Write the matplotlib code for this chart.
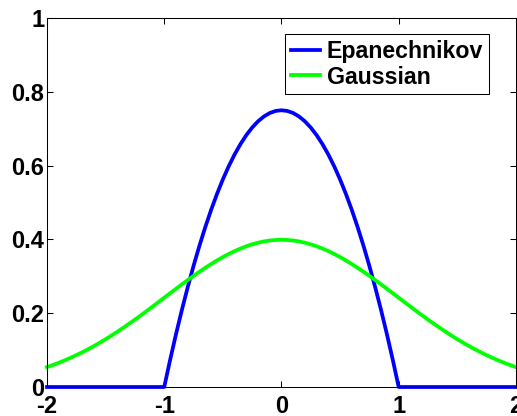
import matplotlib
matplotlib.use("Agg")
import matplotlib.pyplot as plt

# kernel values, x from -2 to 2 in steps of 0.05
x = [-2.0, -1.95, -1.9, -1.85, -1.8, -1.75, -1.7, -1.65, -1.6, -1.55,
     -1.5, -1.45, -1.4, -1.35, -1.3, -1.25, -1.2, -1.15, -1.1, -1.05,
     -1.0, -0.95, -0.9, -0.85, -0.8, -0.75, -0.7, -0.65, -0.6, -0.55,
     -0.5, -0.45, -0.4, -0.35, -0.3, -0.25, -0.2, -0.15, -0.1, -0.05,
     0.0,
     0.05, 0.1, 0.15, 0.2, 0.25, 0.3, 0.35, 0.4, 0.45, 0.5,
     0.55, 0.6, 0.65, 0.7, 0.75, 0.8, 0.85, 0.9, 0.95, 1.0,
     1.05, 1.1, 1.15, 1.2, 1.25, 1.3, 1.35, 1.4, 1.45, 1.5,
     1.55, 1.6, 1.65, 1.7, 1.75, 1.8, 1.85, 1.9, 1.95, 2.0]
epan = [0, 0, 0, 0, 0, 0, 0, 0, 0, 0,
        0, 0, 0, 0, 0, 0, 0, 0, 0, 0,
        0, 0.0731, 0.1425, 0.2081, 0.27, 0.3281, 0.3825, 0.4331, 0.48, 0.5231,
        0.5625, 0.5981, 0.63, 0.6581, 0.6825, 0.7031, 0.72, 0.7331, 0.7425, 0.7481,
        0.75,
        0.7481, 0.7425, 0.7331, 0.72, 0.7031, 0.6825, 0.6581, 0.63, 0.5981, 0.5625,
        0.5231, 0.48, 0.4331, 0.3825, 0.3281, 0.27, 0.2081, 0.1425, 0.0731, 0,
        0, 0, 0, 0, 0, 0, 0, 0, 0, 0,
        0, 0, 0, 0, 0, 0, 0, 0, 0, 0]
gauss = [0.054, 0.0596, 0.0656, 0.0721, 0.079, 0.0863, 0.094, 0.1023, 0.1109, 0.12,
         0.1295, 0.1394, 0.1497, 0.1604, 0.1714, 0.1826, 0.1942, 0.2059, 0.2179, 0.2299,
         0.242, 0.2541, 0.2661, 0.278, 0.2897, 0.3011, 0.3123, 0.323, 0.3332, 0.3429,
         0.3521, 0.3605, 0.3683, 0.3752, 0.3814, 0.3867, 0.391, 0.3945, 0.397, 0.3984,
         0.3989,
         0.3984, 0.397, 0.3945, 0.391, 0.3867, 0.3814, 0.3752, 0.3683, 0.3605, 0.3521,
         0.3429, 0.3332, 0.323, 0.3123, 0.3011, 0.2897, 0.278, 0.2661, 0.2541, 0.242,
         0.2299, 0.2179, 0.2059, 0.1942, 0.1826, 0.1714, 0.1604, 0.1497, 0.1394, 0.1295,
         0.12, 0.1109, 0.1023, 0.094, 0.0863, 0.079, 0.0721, 0.0656, 0.0596, 0.054]
xticks = [-2, -1, 0, 1, 2]
yticks = [0, 0.2, 0.4, 0.6, 0.8, 1]

plt.rcParams['font.family'] = ['Liberation Sans', 'DejaVu Sans']
plt.rcParams['font.weight'] = 'bold'

fig = plt.figure(figsize=(5.17, 4.16), dpi=100)
ax = fig.add_axes([0.0909, 0.0697, 0.907, 0.887])

ax.plot(x, epan, color=(0, 0, 1), lw=2.7, label='Epanechnikov', clip_on=False)
ax.plot(x, gauss, color=(0, 1, 0), lw=2.7, label='Gaussian', clip_on=False)

ax.set_xlim(-2, 2)
ax.set_ylim(0, 1)
ax.set_xticks(xticks)
ax.set_yticks(yticks)
ax.set_xticklabels(['-2', '-1', '0', '1', '2'])
ax.set_yticklabels(['0', '0.2', '0.4', '0.6', '0.8', '1'])
ax.tick_params(direction='in', length=4, width=0.75, top=True, right=True,
               labelsize=17)
ax.tick_params(axis='x', pad=6)
ax.tick_params(axis='y', pad=2)
for s in ax.spines.values():
    s.set_linewidth(0.75)

leg = ax.legend(loc='upper right', bbox_to_anchor=(0.9424, 0.9566),
                borderaxespad=0, fancybox=False, framealpha=1,
                edgecolor='black', fontsize=16.7, handlelength=1.25,
                handletextpad=0.3, labelspacing=0.12, borderpad=0.25)
leg.get_frame().set_linewidth(0.75)

fig.savefig('out.png', dpi=100)
